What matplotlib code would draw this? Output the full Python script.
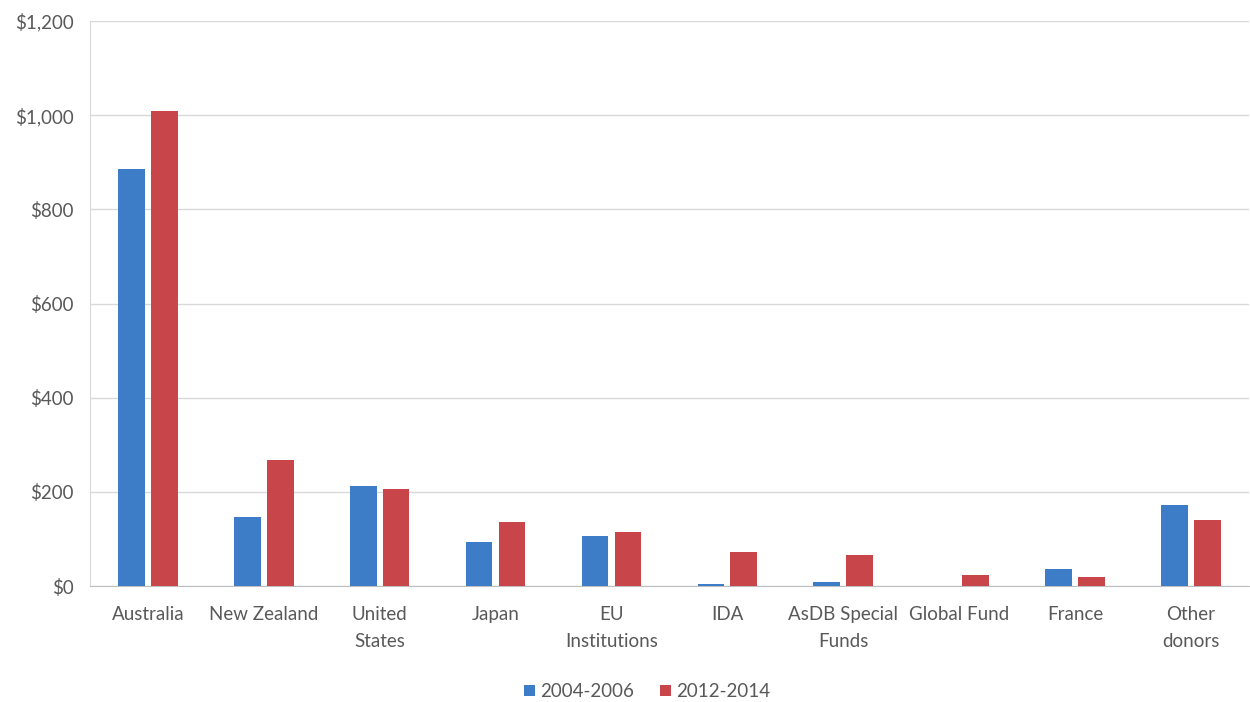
import numpy as np
import matplotlib.pyplot as plt
from matplotlib.ticker import FuncFormatter

# donors and aid amounts (US$ millions)
donors = ['Australia', 'New Zealand', 'United\nStates', 'Japan', 'EU\nInstitutions',
          'IDA', 'AsDB Special\nFunds', 'Global Fund', 'France', 'Other\ndonors']
aid_2004_2006 = [885, 147, 213, 93, 107, 4, 9, 0, 36, 172]
aid_2012_2014 = [1008, 268, 206, 137, 114, 72, 67, 23, 20, 140]

blue = '#3d7cc6'
red = '#c8454a'
grey_text = '#595959'

plt.rcParams['font.family'] = ['Lato', 'DejaVu Sans']

fig = plt.figure(figsize=(12.5, 7.02), dpi=100)
ax = fig.add_axes([0.072, 0.165, 0.927, 0.805])

x = np.arange(len(donors))
w = 0.23
off = 0.142
ax.bar(x - off, aid_2004_2006, w, color=blue, label='2004-2006', zorder=3)
ax.bar(x + off, aid_2012_2014, w, color=red, label='2012-2014', zorder=3)

ax.set_xlim(-0.5, len(donors) - 0.5)
ax.set_ylim(0, 1200)
ax.set_yticks(np.arange(0, 1201, 200))
ax.yaxis.set_major_formatter(FuncFormatter(lambda v, p: f'${v:,.0f}'))
ax.set_xticks(x)
ax.set_xticklabels(donors, linespacing=1.75)

ax.grid(axis='y', color='#d9d9d9', linewidth=1, zorder=0)
for s in ['top', 'right']:
    ax.spines[s].set_visible(False)
ax.spines['left'].set_color('#d9d9d9')
ax.spines['bottom'].set_color('#bfbfbf')
ax.tick_params(axis='both', length=0, colors=grey_text, labelsize=13.5)
ax.tick_params(axis='y', pad=12)
ax.tick_params(axis='x', pad=14)

ax.legend(loc='center', bbox_to_anchor=(0.481, -0.187), ncol=2, frameon=False,
          fontsize=13.5, handlelength=0.55, handleheight=0.55, handletextpad=0.3,
          columnspacing=1.4, labelcolor=grey_text)

fig.savefig('out.png', dpi=100)
